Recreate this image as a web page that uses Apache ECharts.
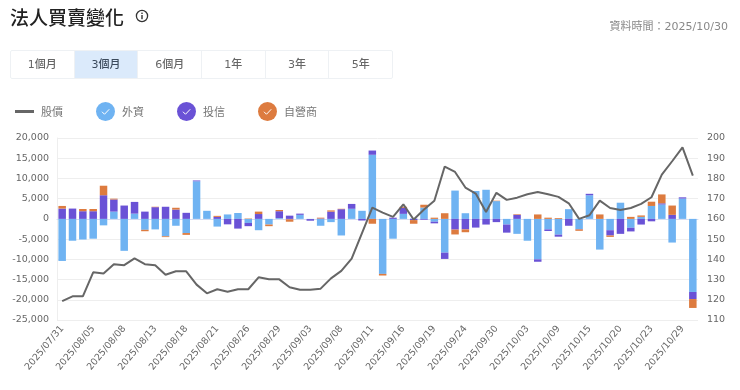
<!DOCTYPE html>
<html><head><meta charset="utf-8">
<script src="https://cdn.jsdelivr.net/npm/echarts@6/dist/echarts.min.js"></script>
<style>
html,body{margin:0;padding:0;background:#fff;width:740px;height:390px;overflow:hidden;font-family:"DejaVu Sans","Noto Sans CJK TC",sans-serif}
#chart{position:absolute;left:0;top:0;width:740px;height:390px}
#title{position:absolute;left:10px;top:4px;font:500 19px/26px "Noto Sans CJK TC",sans-serif;color:#222;letter-spacing:0}
#info{position:absolute;left:135px;top:9px}
#time{position:absolute;right:12px;top:19px;font:11px/16px "DejaVu Sans","Noto Sans CJK TC",sans-serif;color:#888}
#tabs{position:absolute;left:10px;top:50px;width:383px;height:29px;display:flex;border:1px solid #eef1f4;box-sizing:border-box;border-radius:2px}
#tabs div{flex:1;text-align:center;font:500 11px/27px "DejaVu Sans","Noto Sans CJK TC",sans-serif;color:#666;border-right:1px solid #eef1f4}
#tabs div:last-child{border-right:0}
#tabs div.on{background:#dbeafb;color:#3b4a5c}
</style></head><body>
<div id="chart"></div>
<div id="title">法人買賣變化</div>
<svg id="info" width="14" height="14" viewBox="0 0 14 14"><circle cx="7" cy="7" r="5.6" fill="none" stroke="#333" stroke-width="1.3"/><rect x="6.3" y="6" width="1.4" height="4.2" fill="#333"/><rect x="6.3" y="3.6" width="1.4" height="1.4" fill="#333"/></svg>
<div id="time">資料時間：2025/10/30</div>
<div id="tabs"></div>
<script>
const tabs = ['1個月','3個月','6個月','1年','3年','5年'];
const activeTab = '3個月';
const dates = ['2025/07/31','2025/08/01','2025/08/04','2025/08/05','2025/08/06','2025/08/07','2025/08/08','2025/08/11','2025/08/12','2025/08/13','2025/08/14','2025/08/15','2025/08/18','2025/08/19','2025/08/20','2025/08/21','2025/08/22','2025/08/25','2025/08/26','2025/08/27','2025/08/28','2025/08/29','2025/09/01','2025/09/02','2025/09/03','2025/09/04','2025/09/05','2025/09/08','2025/09/09','2025/09/10','2025/09/11','2025/09/12','2025/09/15','2025/09/16','2025/09/17','2025/09/18','2025/09/19','2025/09/22','2025/09/23','2025/09/24','2025/09/25','2025/09/26','2025/09/30','2025/10/01','2025/10/02','2025/10/03','2025/10/07','2025/10/08','2025/10/09','2025/10/13','2025/10/14','2025/10/15','2025/10/16','2025/10/17','2025/10/20','2025/10/21','2025/10/22','2025/10/23','2025/10/27','2025/10/28','2025/10/29','2025/10/30'];
const foreign = [-10400,-5400,-5100,-4900,-1600,1800,-7900,1300,-2700,-2600,-4300,-1700,-3500,9300,2000,-1900,1100,1450,-1000,-2800,-1400,200,-100,1000,-50,-1700,-800,-4100,2500,2000,15850,-13600,-4900,1240,100,2800,-700,-8350,7000,1400,6900,7200,4400,-1400,-3700,-5400,-10000,-2600,-3900,2400,-2500,5850,-7590,-2800,4000,-2200,500,3200,3550,-5850,5030,-18070];
const trust = [2550,2550,1900,1900,5850,3000,3300,2900,1800,2900,3000,2300,1500,200,0,500,-1350,-2400,-800,1200,0,1700,800,300,-400,100,1800,2400,1200,-400,1050,0,300,1500,-300,-200,-400,-1550,-2650,-2600,-2150,-1400,-800,-2000,1000,0,-600,-400,-500,-1700,-100,350,0,-1300,-3700,-900,-1400,-600,300,1000,300,-1750];
const dealer = [650,0,550,550,2350,200,0,0,-350,100,-200,450,-450,0,0,250,0,0,100,600,-400,300,-600,0,0,200,300,100,0,0,-1200,-400,0,250,-900,700,300,1400,-1200,-700,0,0,100,0,150,0,1100,300,200,0,-350,0,1100,-350,0,500,350,1050,2200,2300,0,-2200];
const price = [119.3,121.7,121.7,133.6,133,137.6,137.1,140.5,137.6,137.1,132.4,134.1,134.1,127.5,123.2,125.2,124,125.2,125.2,131.1,130.1,130.1,126.2,125,125,125.5,130.6,134.3,140.4,153,165.6,163.1,161,167.2,159.7,164.6,169,185.9,183.2,175.5,172.5,163.4,172.9,169.4,170.5,172.2,173.3,172.2,170.9,167.7,160,161.8,169,165.4,164.4,165.4,167.4,170.7,181.9,188.5,195.4,181.4];

const tabsEl = document.getElementById('tabs');
tabs.forEach(t => { const d = document.createElement('div'); d.textContent = t; if (t === activeTab) d.className = 'on'; tabsEl.appendChild(d); });

const BLUE = '#6fb3f2', PURPLE = '#6a52d6', ORANGE = '#dd7b3f', LINE = '#666666';
function checkIcon(c){
  const svg = "<svg xmlns='http://www.w3.org/2000/svg' width='38' height='38' viewBox='0 0 38 38'><circle cx='19' cy='19' r='19' fill='"+c+"'/><path d='M12 19.5l5 5 9.5-10' fill='none' stroke='#fff' stroke-width='2'/></svg>";
  return 'image://data:image/svg+xml;charset=utf-8,' + encodeURIComponent(svg);
}
const lineIcon = 'image://data:image/svg+xml;charset=utf-8,' + encodeURIComponent("<svg xmlns='http://www.w3.org/2000/svg' width='38' height='38' viewBox='0 0 38 38'><rect x='0' y='16' width='38' height='6' fill='"+LINE+"'/></svg>");
const txtFont = '"DejaVu Sans","Noto Sans CJK TC",sans-serif';
const chart = echarts.init(document.getElementById('chart'), null, {renderer:'canvas'});
const bar = (name, data, color) => ({name, type:'bar', stack:'inst', data, barWidth:7.5, itemStyle:{color}, yAxisIndex:0, animation:false});
chart.setOption({
  animation:false,
  textStyle:{fontFamily:txtFont},
  legend:{left:10, top:97, itemWidth:19, itemHeight:19, itemGap:33, selectedMode:false,
    textStyle:{color:'#777', fontSize:11, fontFamily:'"Noto Sans CJK TC",sans-serif', padding:[0,0,0,2]},
    data:[{name:'股價',icon:lineIcon},{name:'外資',icon:checkIcon(BLUE)},{name:'投信',icon:checkIcon(PURPLE)},{name:'自營商',icon:checkIcon(ORANGE)}]},
  grid:{left:57, right:42, top:138, bottom:70, containLabel:false},
  xAxis:{type:'category', data:dates, boundaryGap:true,
    axisTick:{show:false},
    axisLine:{onZero:true, lineStyle:{color:'#d5dcf0'}},
    axisLabel:{interval:2, rotate:50, fontSize:9.5, color:'#666', margin:7, fontFamily:txtFont}},
  yAxis:[
    {type:'value', min:-25000, max:20000, interval:5000, position:'left',
     axisLine:{show:true, lineStyle:{color:'#eeeeee'}}, axisTick:{show:false},
     splitLine:{lineStyle:{color:'#eeeeee'}},
     axisLabel:{fontSize:9.5, color:'#666', margin:8, fontFamily:txtFont, formatter:v=>v.toLocaleString('en-US')}},
    {type:'value', min:110, max:200, interval:10, position:'right',
     axisLine:{show:false}, axisTick:{show:false}, splitLine:{show:false},
     axisLabel:{fontSize:9.5, color:'#666', margin:9, fontFamily:txtFont}}
  ],
  series:[
    bar('外資', foreign, BLUE),
    bar('投信', trust, PURPLE),
    bar('自營商', dealer, ORANGE),
    {name:'股價', type:'line', yAxisIndex:1, data:price, symbol:'none', z:5, lineStyle:{color:LINE, width:2}, itemStyle:{color:LINE}}
  ]
});
</script>
</body></html>
